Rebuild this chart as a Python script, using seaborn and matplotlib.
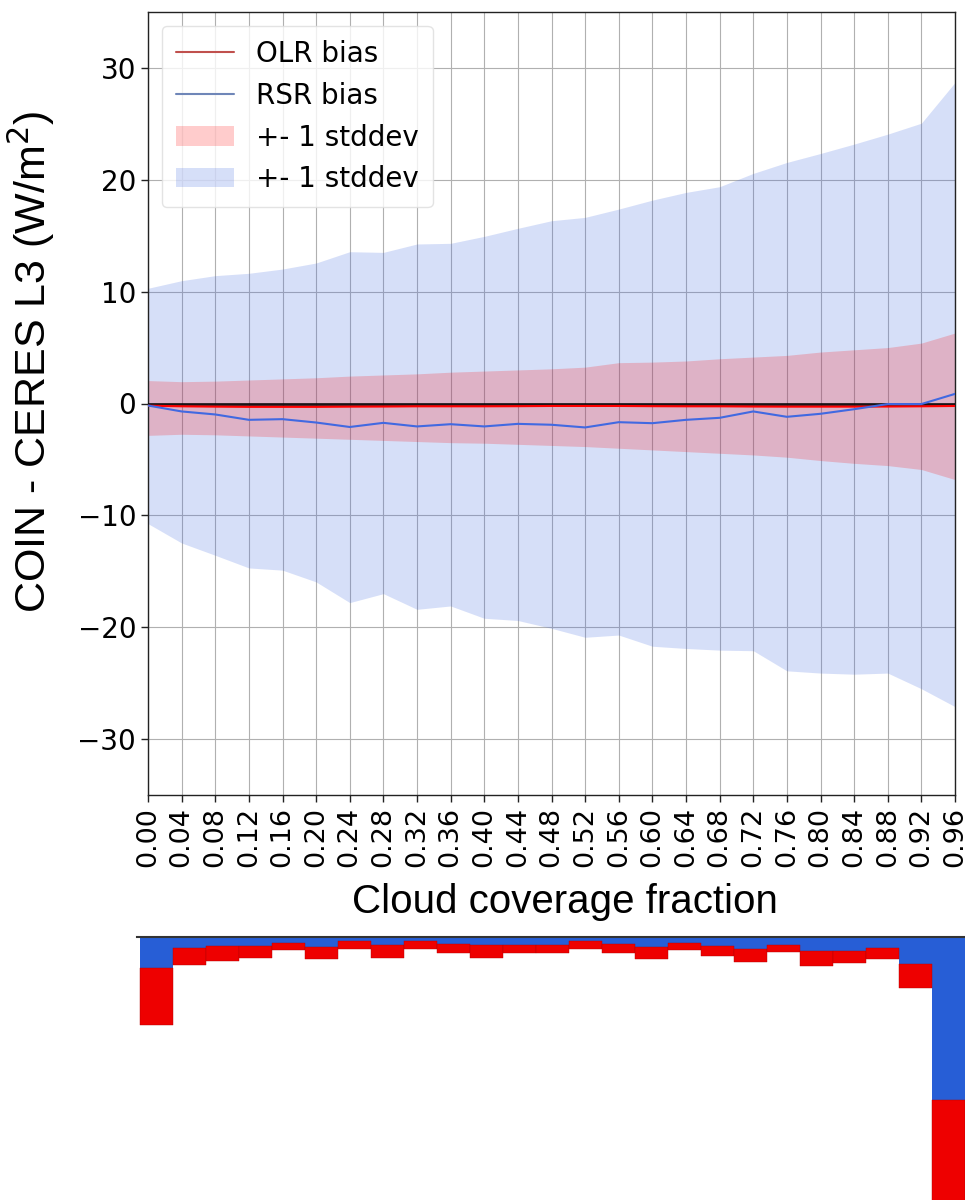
import numpy as np
import pandas as pd
import matplotlib
matplotlib.use("Agg")
import matplotlib.pyplot as plt
import seaborn as sns
from matplotlib.patches import Patch
from matplotlib.lines import Line2D
from matplotlib import font_manager

# ---------------- data ----------------
cloud_fraction = [0.00, 0.04, 0.08, 0.12, 0.16, 0.20, 0.24, 0.28, 0.32, 0.36,
                  0.40, 0.44, 0.48, 0.52, 0.56, 0.60, 0.64, 0.68, 0.72, 0.76,
                  0.80, 0.84, 0.88, 0.92, 0.96]

olr_bias = [-0.20, -0.25, -0.28, -0.30, -0.30, -0.30, -0.28, -0.27, -0.25, -0.25,
            -0.25, -0.24, -0.22, -0.22, -0.22, -0.24, -0.25, -0.25, -0.27, -0.28,
            -0.28, -0.28, -0.27, -0.25, -0.22]
olr_upper = [2.05, 1.95, 2.00, 2.10, 2.20, 2.30, 2.45, 2.55, 2.65, 2.80,
             2.90, 3.00, 3.10, 3.25, 3.65, 3.70, 3.80, 4.00, 4.15, 4.30,
             4.60, 4.80, 5.00, 5.40, 6.30]
olr_lower = [-2.85, -2.75, -2.80, -2.90, -3.00, -3.10, -3.20, -3.30, -3.40, -3.50,
             -3.55, -3.65, -3.75, -3.85, -4.00, -4.15, -4.30, -4.45, -4.60, -4.80,
             -5.10, -5.35, -5.55, -5.90, -6.80]

rsr_bias = [-0.18, -0.71, -0.98, -1.46, -1.40, -1.70, -2.10, -1.73, -2.05, -1.85,
            -2.05, -1.82, -1.90, -2.14, -1.67, -1.76, -1.46, -1.28, -0.71, -1.19,
            -0.92, -0.51, -0.05, -0.05, 0.86]
rsr_upper = [10.30, 10.98, 11.43, 11.64, 12.02, 12.56, 13.57, 13.51, 14.26, 14.32,
             14.94, 15.66, 16.34, 16.64, 17.38, 18.18, 18.87, 19.38, 20.57, 21.55,
             22.35, 23.19, 24.08, 25.06, 28.70]
rsr_lower = [-10.74, -12.47, -13.57, -14.70, -14.90, -15.95, -17.80, -17.00, -18.40, -18.10,
             -19.20, -19.40, -20.10, -20.90, -20.70, -21.70, -21.90, -22.05, -22.10, -23.90,
             -24.10, -24.20, -24.10, -25.50, -27.10]

# bottom histogram (arbitrary counts, hanging downward)
hist_blue = [30.7, 11.0, 9.3, 9.3, 6.0, 10.0, 4.0, 8.3, 4.0, 7.3,
             8.3, 7.7, 7.7, 4.3, 7.0, 10.0, 6.0, 9.0, 12.3, 7.7,
             14.0, 14.0, 11.0, 26.7, 162.7]
hist_red = [57.6, 16.7, 14.7, 11.4, 7.3, 11.7, 7.7, 12.4, 7.7, 8.7,
            12.4, 8.3, 8.3, 7.4, 9.0, 11.7, 7.3, 10.3, 12.7, 7.3,
            15.0, 12.0, 10.7, 24.0, 140.0]

tick_labels = ["%.2f" % v for v in cloud_fraction]

df = pd.DataFrame({"cf": cloud_fraction, "olr": olr_bias, "rsr": rsr_bias})

# ---------------- style ----------------
sns.set_theme(style="ticks", rc={
    "axes.grid": True,
    "grid.color": "#b0b0b0",
    "grid.linewidth": 0.8,
    "axes.edgecolor": "#222222",
    "axes.linewidth": 1.0,
    "text.color": "black",
    "axes.labelcolor": "black",
    "xtick.color": "black",
    "ytick.color": "black",
})
plt.rcParams["font.family"] = ["DejaVu Sans"]

available = {f.name for f in font_manager.fontManager.ttflist}
if "Liberation Sans Narrow" in available:
    label_font = ["Liberation Sans Narrow", "DejaVu Sans"]
else:
    label_font = ["Liberation Sans", "DejaVu Sans"]

fig = plt.figure(figsize=(9.65, 12.0), dpi=100)

W, H = 965.0, 1200.0
ax = fig.add_axes([148 / W, 1 - 795 / H, (955 - 148) / W, (795 - 12) / H])

RB = "royalblue"

ax.fill_between(df["cf"], rsr_lower, rsr_upper, color=RB, alpha=0.21, linewidth=0)
ax.fill_between(df["cf"], olr_lower, olr_upper, color="red", alpha=0.2, linewidth=0)
ax.axhline(0, color="black", lw=2.0, alpha=0.85, zorder=3)
sns.lineplot(data=df, x="cf", y="olr", color="red", lw=1.5, ax=ax, zorder=4)
sns.lineplot(data=df, x="cf", y="rsr", color=RB, lw=1.5, ax=ax, zorder=4)

ax.set_xlim(0, 0.96)
ax.set_ylim(-35, 35)
ax.set_xticks(cloud_fraction)
ax.set_xticklabels(tick_labels, rotation=90, fontsize=19.5)
ax.set_yticks([-30, -20, -10, 0, 10, 20, 30])
ax.set_yticklabels(["\u221230", "\u221220", "\u221210", "0", "10", "20", "30"], fontsize=20)
ax.tick_params(axis="both", length=5, width=1, color="#222222")
ax.set_xlabel("Cloud coverage fraction", family=label_font, fontsize=29)
ax.set_ylabel("COIN - CERES L3 (W/m$^2$)", family=label_font, fontsize=31)
ax.xaxis.set_label_coords(0.517, -0.112)
ax.yaxis.set_label_coords(-0.113, 0.553)

handles = [
    Line2D([0], [0], color="#c0504d", lw=1.5),
    Line2D([0], [0], color="#6f86b8", lw=1.5),
    Patch(facecolor="red", alpha=0.2, edgecolor="none"),
    Patch(facecolor=RB, alpha=0.21, edgecolor="none"),
]
ax.legend(handles, ["OLR bias", "RSR bias", "+- 1 stddev", "+- 1 stddev"],
          loc="upper left", fontsize=20, frameon=True, framealpha=0.8,
          edgecolor="#dddddd", fancybox=True, borderpad=0.5,
          handlelength=2.1, labelspacing=0.5, borderaxespad=0.5)

# ---------------- bottom histogram ----------------
ax2 = fig.add_axes([137 / W, 0.0, (965 - 137) / W, (H - 937) / H])
pos = np.arange(len(hist_blue))
ax2.bar(pos, hist_blue, width=1.0, align="edge", color="#275ed6", linewidth=0)
ax2.bar(pos, hist_red, width=1.0, align="edge", bottom=hist_blue,
        color="#ee0000", edgecolor="#b00000", linewidth=0.3)
ax2.set_xlim(-0.09, 25.0)
ax2.set_ylim(263, 0)
ax2.grid(False)
ax2.set_xticks([])
ax2.set_yticks([])
for s in ["left", "right", "bottom"]:
    ax2.spines[s].set_visible(False)
ax2.spines["top"].set_color("#333333")
ax2.spines["top"].set_linewidth(1.5)
ax2.set_facecolor("none")

fig.savefig("out.png", dpi=100)
